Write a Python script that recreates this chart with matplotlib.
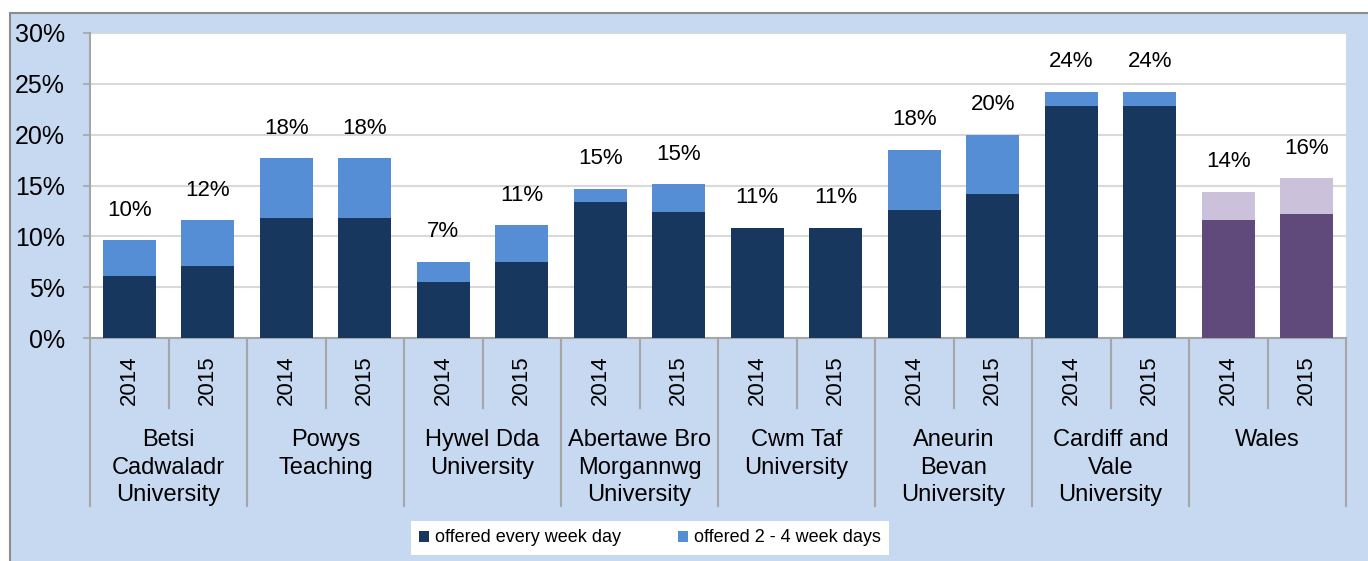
import matplotlib.pyplot as plt
from matplotlib.patches import Rectangle, Patch
from matplotlib.lines import Line2D
import matplotlib.transforms as mtransforms
import numpy as np

plt.rcParams['font.family'] = ['Liberation Sans', 'DejaVu Sans']

# data (percent)
groups = ['Betsi\nCadwaladr\nUniversity', 'Powys\nTeaching', 'Hywel Dda\nUniversity',
          'Abertawe Bro\nMorgannwg\nUniversity', 'Cwm Taf\nUniversity',
          'Aneurin\nBevan\nUniversity', 'Cardiff and\nVale\nUniversity', 'Wales']
years = ['2014', '2015']
every_day = [6.1, 7.1, 11.8, 11.8, 5.5, 7.5, 13.4, 12.4, 10.85, 10.85, 12.6, 14.2, 22.8, 22.8, 11.6, 12.2]
two_to_four = [3.5, 4.5, 5.9, 5.9, 2.0, 3.6, 1.3, 2.7, 0.0, 0.0, 5.9, 5.8, 1.4, 1.4, 2.8, 3.5]
total_labels = ['10%', '12%', '18%', '18%', '7%', '11%', '15%', '15%',
                '11%', '11%', '18%', '20%', '24%', '24%', '14%', '16%']

DARK, LIGHT = '#17375E', '#558ED5'
WALES_DARK, WALES_LIGHT = '#604A7B', '#CCC1DA'
BG = '#C6D9F1'
LINE = '#A6A6A6'

W, H = 1368, 561
fig = plt.figure(figsize=(W / 100, H / 100), dpi=100, facecolor='white')

# blue chart area with grey border (top/left visible)
fig.patches.append(Rectangle((10 / W, -0.05), 1.1, (H - 13) / H + 0.05, transform=fig.transFigure,
                             facecolor=BG, edgecolor='#8C8C8C', linewidth=1.5, zorder=-10))

left, right, top, bottom = 90, 1346, 33, 338
ax = fig.add_axes([left / W, 1 - bottom / H, (right - left) / W, (bottom - top) / H])
ax.set_facecolor('white')

n = len(every_day)
x = np.arange(n)
dark_cols = [DARK] * (n - 2) + [WALES_DARK] * 2
light_cols = [LIGHT] * (n - 2) + [WALES_LIGHT] * 2
tops = np.array(every_day) + np.array(two_to_four)

ax.bar(x, every_day, width=0.675, color=dark_cols, zorder=3)
ax.bar(x, two_to_four, bottom=every_day, width=0.675, color=light_cols, zorder=3)

for xi, t, lab in zip(x, tops, total_labels):
    ax.annotate(lab, (xi, t), xytext=(0, 21.6), textcoords='offset points',
                ha='center', va='center', fontsize=16, color='black')

ax.set_xlim(-0.5, n - 0.5)
ax.set_ylim(0, 30)
ax.set_yticks(np.arange(0, 31, 5))
ax.set_yticklabels([f'{v}%' for v in range(0, 31, 5)], fontsize=18)
ax.yaxis.grid(True, color='#D9D9D9', linewidth=1.5, zorder=0)
ax.set_axisbelow(True)
ax.tick_params(axis='y', length=5, width=1.2, color=LINE, pad=13)
ax.set_xticks([])
for s in ['top', 'right']:
    ax.spines[s].set_visible(False)
for s in ['left', 'bottom']:
    ax.spines[s].set_color(LINE)
    ax.spines[s].set_linewidth(1.5)

# category axis below the plot, drawn in axes-y / data-x coords
trans = mtransforms.blended_transform_factory(ax.transData, ax.transAxes)
def ypx(y):
    return -(y - bottom) / (bottom - top)

y_year_end = ypx(408)
y_group_end = ypx(506)
for b in np.arange(-0.5, n, 1):
    if round(b + 0.5) % 2 == 0:
        ax.add_line(Line2D([b, b], [0, y_group_end], transform=trans, color=LINE,
                           linewidth=1.5, clip_on=False))
    else:
        ax.add_line(Line2D([b, b], [0, y_year_end], transform=trans, color=LINE,
                           linewidth=1.5, clip_on=False))

for i in range(n):
    ax.text(i, ypx(380), years[i % 2], transform=trans, rotation=90,
            ha='center', va='center', fontsize=16, clip_on=False)

for g, name in enumerate(groups):
    ax.text(2 * g + 0.5, ypx(429), name, transform=trans, ha='center', va='top',
            fontsize=17, linespacing=1.33, clip_on=False)

# legend in a white box
handles = [Patch(facecolor=DARK, label='offered every week day'),
           Patch(facecolor=LIGHT, label='offered 2 - 4 week days')]
leg = fig.legend(handles=handles, loc='center', bbox_to_anchor=(650 / W, 1 - 538 / H),
                 ncol=2, frameon=True, fancybox=False, fontsize=13, framealpha=1,
                 handlelength=0.55, handleheight=0.55, handletextpad=0.3,
                 columnspacing=3.2, borderpad=0.45)
leg.get_frame().set_facecolor('white')
leg.get_frame().set_edgecolor('white')
leg.get_frame().set_linewidth(0)

fig.savefig('out.png', dpi=100, facecolor='white')
